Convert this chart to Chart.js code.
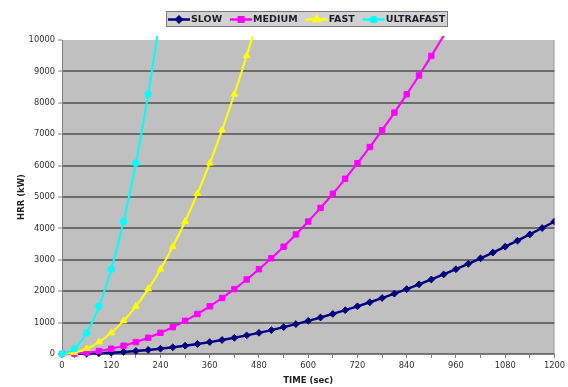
<!DOCTYPE html>
<html>
<head>
<meta charset="utf-8">
<script src="https://cdn.jsdelivr.net/npm/chart.js@4/dist/chart.umd.min.js"></script>
<style>
  html, body { margin: 0; padding: 0; background: #ffffff; }
  #wrap { width: 568px; height: 387px; }
</style>
</head>
<body>
<div id="wrap"><canvas id="hrr" width="568" height="387"></canvas></div>
<script>
// Time samples (s), every 30 s
const timeSec = [0, 30, 60, 90, 120, 150, 180, 210, 240, 270, 300, 330, 360, 390, 420, 450,
  480, 510, 540, 570, 600, 630, 660, 690, 720, 750, 780, 810, 840, 870, 900, 930,
  960, 990, 1020, 1050, 1080, 1110, 1140, 1170, 1200];

// Heat release rate (kW) for each t-squared growth class
const slowHRR = [0, 3, 11, 24, 42, 66, 95, 129, 169, 214, 264, 319, 380, 446, 517, 593,
  675, 762, 854, 952, 1055, 1163, 1276, 1395, 1519, 1648, 1783, 1922, 2067, 2218, 2373, 2534,
  2700, 2872, 3048, 3230, 3418, 3610, 3808, 4011, 4219];
const mediumHRR = [0, 11, 42, 95, 169, 264, 380, 517, 675, 854, 1055, 1276, 1519, 1783, 2067, 2373,
  2700, 3048, 3418, 3808, 4219, 4652, 5105, 5580, 6076, 6592, 7130, 7689, 8270, 8871, 9493, 10137];
const fastHRR = [0, 42, 169, 380, 675, 1055, 1520, 2068, 2701, 3419, 4221, 5107, 6078, 7133, 8273, 9497, 10806];
const ultrafastHRR = [0, 169, 675, 1520, 2701, 4221, 6078, 8273, 10806];

const seriesNames = ['SLOW', 'MEDIUM', 'FAST', 'ULTRAFAST'];
const seriesColors = ['#000080', '#ff00ff', '#ffff00', '#00ffff'];
const seriesMarkers = ['rectRot', 'rect', 'triangle', 'circle'];
const markerRadius = [3.4, 3.8, 3.8, 3.2];

// X axis: ticks every 60 s, labels every 120 s
const xMin = 0, xMax = 1200, xStep = 60, xLabelStep = 120;
const yMin = 0, yMax = 10000, yStep = 1000;

function pairs(values) {
  return values.map((v, i) => ({ x: timeSec[i], y: v }));
}

const seriesValues = [slowHRR, mediumHRR, fastHRR, ultrafastHRR];

const datasets = seriesValues.map((vals, i) => ({
  label: seriesNames[i],
  data: pairs(vals),
  borderColor: seriesColors[i],
  backgroundColor: seriesColors[i],
  borderWidth: i === 0 ? 2.4 : 2.1,
  pointStyle: seriesMarkers[i],
  // markers are only shown inside the value range
  pointRadius: (c) => (c.raw && c.raw.y > yMax ? 0 : markerRadius[i]),
  pointBorderWidth: 1,
  pointBorderColor: seriesColors[i],
  pointBackgroundColor: seriesColors[i],
  cubicInterpolationMode: 'monotone',
  order: 4 - i,
  clip: { left: 6, top: 4, right: 0, bottom: 6 }
}));

const FONT = "'DejaVu Sans', Verdana, sans-serif";

// Grey plot area with a light right-hand edge
const plotBackground = {
  id: 'plotBackground',
  beforeDraw(chart) {
    const { ctx, chartArea: a } = chart;
    ctx.save();
    ctx.fillStyle = '#c0c0c0';
    ctx.fillRect(a.left, a.top, a.right - a.left, a.bottom - a.top);
    ctx.strokeStyle = '#a8a8a8';
    ctx.lineWidth = 1;
    ctx.beginPath();
    ctx.moveTo(a.right - 0.5, a.top);
    ctx.lineTo(a.right - 0.5, a.bottom);
    ctx.stroke();
    ctx.restore();
  }
};

// Axis titles
const axisTitles = {
  id: 'axisTitles',
  afterDraw(chart) {
    const { ctx, chartArea: a } = chart;
    ctx.save();
    ctx.fillStyle = '#222222';
    ctx.font = 'bold 8.5px ' + FONT;
    ctx.textAlign = 'center';
    ctx.textBaseline = 'middle';
    ctx.fillText('TIME (sec)', (a.left + a.right) / 2, a.bottom + 27);
    ctx.translate(22, (a.top + a.bottom) / 2);
    ctx.rotate(-Math.PI / 2);
    ctx.fillText('HRR (kW)', 0, 0);
    ctx.restore();
  }
};

// Boxed legend with line + marker samples
const boxLegend = {
  id: 'boxLegend',
  afterDraw(chart) {
    const { ctx } = chart;
    const boxL = 166, boxT = 11, boxR = 448, boxB = 27;
    ctx.save();
    ctx.fillStyle = '#d2d2d2';
    ctx.fillRect(boxL, boxT, boxR - boxL, boxB - boxT);
    ctx.strokeStyle = '#7a7a7a';
    ctx.lineWidth = 1;
    ctx.strokeRect(boxL + 0.5, boxT + 0.5, boxR - boxL - 1, boxB - boxT - 1);
    ctx.font = 'bold 9.5px ' + FONT;
    ctx.textBaseline = 'middle';
    const cy = (boxT + boxB) / 2 + 0.5;
    let x = 168;
    chart.data.datasets.forEach((ds, i) => {
      const len = 22;
      ctx.strokeStyle = ds.borderColor;
      ctx.lineWidth = 2.5;
      ctx.beginPath();
      ctx.moveTo(x, cy);
      ctx.lineTo(x + len, cy);
      ctx.stroke();
      ctx.fillStyle = ds.borderColor;
      Chart.helpers.drawPoint(ctx, {
        pointStyle: ds.pointStyle, radius: markerRadius[i] - 0.6, borderWidth: 1, rotation: 0
      }, x + len / 2, cy);
      ctx.fillStyle = '#1e1e2a';
      ctx.textAlign = 'left';
      const tx = x + len + 1;
      ctx.fillText(ds.label, tx, cy);
      x = tx + ctx.measureText(ds.label).width + 8;
    });
    ctx.restore();
  }
};

new Chart(document.getElementById('hrr'), {
  type: 'line',
  data: { datasets },
  plugins: [plotBackground, axisTitles, boxLegend],
  options: {
    responsive: false,
    animation: false,
    devicePixelRatio: 1,
    layout: { padding: { left: 0, top: 40, right: 12, bottom: 0 } },
    plugins: { legend: { display: false }, tooltip: { enabled: false } },
    scales: {
      x: {
        type: 'linear',
        min: xMin, max: xMax,
        afterFit(scale) { scale.height = 33; },
        grid: { drawOnChartArea: false, drawTicks: true, tickLength: 4, color: '#808080', lineWidth: 1 },
        border: { display: true, color: '#808080', width: 1 },
        ticks: {
          stepSize: xStep,
          autoSkip: false,
          maxRotation: 0,
          padding: 3,
          color: '#333333',
          font: { family: FONT, size: 8.3 },
          callback: (v) => (v % xLabelStep === 0 ? String(v) : '')
        }
      },
      y: {
        min: yMin, max: yMax,
        afterFit(scale) { scale.width = 62; },
        grid: {
          drawTicks: true,
          tickLength: 4,
          lineWidth: 2,
          color: (c) => (c.tick && c.tick.value === yMax ? 'rgba(0,0,0,0)' : '#6c6c6c'),
          tickColor: '#808080',
          tickWidth: 1
        },
        border: { display: true, color: '#808080', width: 1 },
        ticks: {
          stepSize: yStep,
          padding: 3,
          color: '#333333',
          font: { family: FONT, size: 8.3 },
          callback: (v) => String(v)
        }
      }
    }
  }
});
</script>
</body>
</html>
